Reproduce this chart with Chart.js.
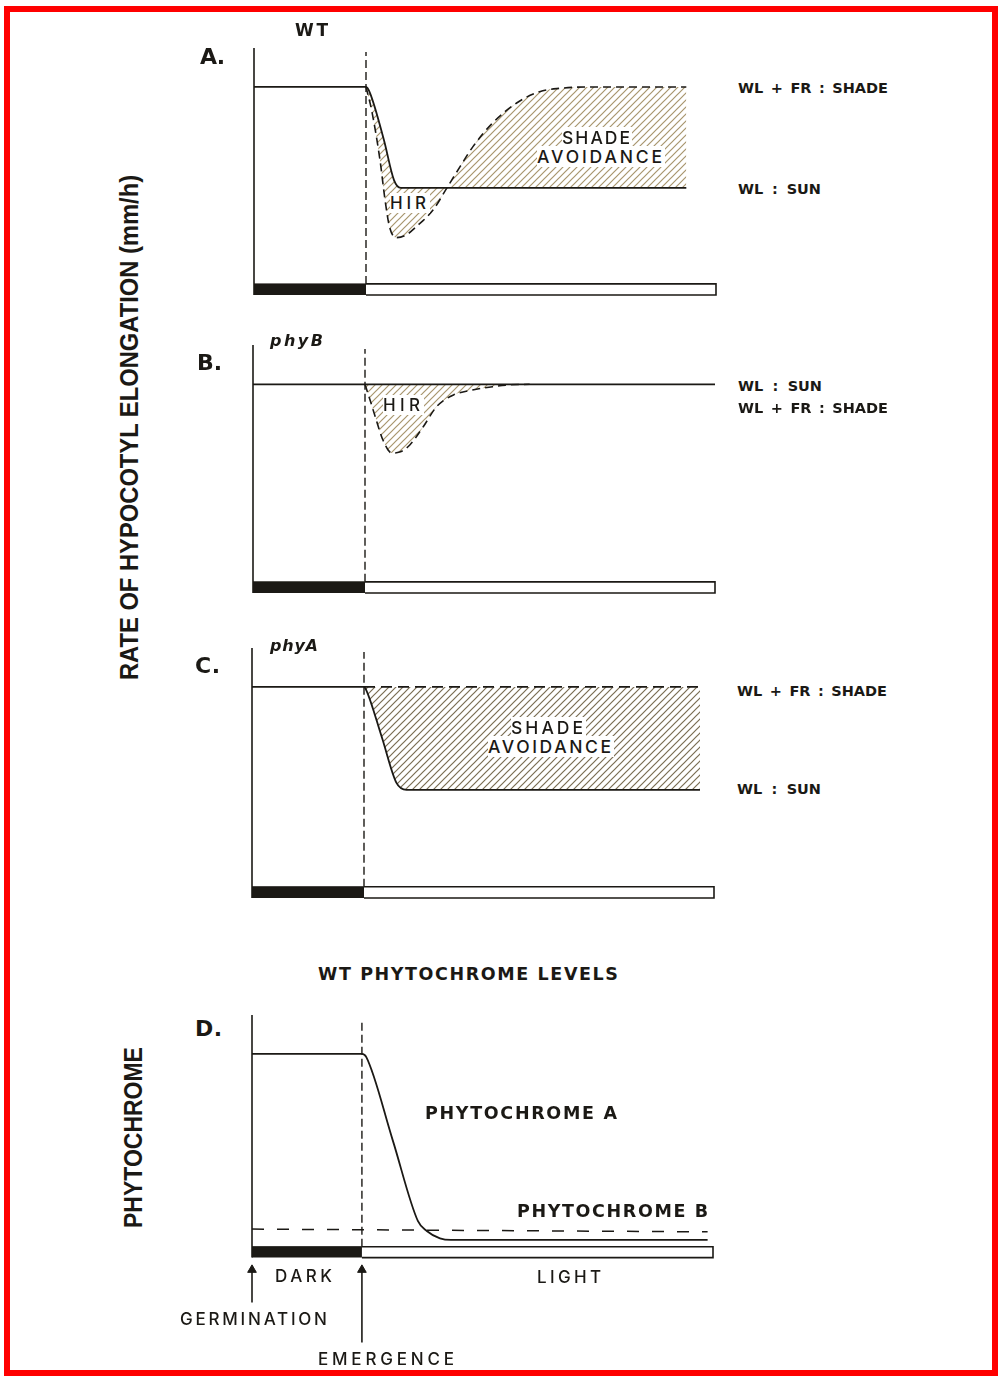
<!DOCTYPE html>
<html><head><meta charset="utf-8">
<script src="https://cdn.jsdelivr.net/npm/chart.js@4.4.1/dist/chart.umd.min.js"></script>
<style>
html,body{margin:0;padding:0;background:#fff;}
body{width:999px;height:1376px;position:relative;overflow:hidden;font-family:"Liberation Sans",Arial,sans-serif;color:#1b1915;}
#frame{position:absolute;left:4px;top:6px;width:982px;height:1358px;border:6px solid #ff0000;}
canvas{position:absolute;}
.lbl{position:absolute;white-space:pre;line-height:1;}
</style></head><body>
<div id="frame"></div>
<script>
// ---------- DATA (x: time since germination, emergence = 10; y: relative rate / level) ----------
const phaseDark = [0, 10];          // germination -> emergence (dark)
const emergenceX = 10;
// Panel A (WT)
const sunA_x   = [0, 10, 10.35, 11.6, 12.5, 13.1, 38.6];
const sunA_y   = [83.5, 83.5, 81.0, 61.0, 44.0, 40.7, 40.7];
const shadeA_x = [10, 10.5, 11.25, 11.7, 12.1, 12.7, 13.6, 14.5, 16.0, 17.2, 18.4, 19.55, 21.3, 23.45, 25.5, 27.3, 30, 38.6];
const shadeA_y = [83.5, 73.7, 52.5, 35.6, 24.2, 19.6, 20.8, 24.3, 31.4, 40.5, 49.7, 58.2, 68.2, 76.7, 81.5, 82.9, 83.5, 83.5];
// Panel B (phyB)
const sunB_x   = [0, 41.25];
const sunB_y   = [83.4, 83.4];
const shadeB_x = [10, 10.45, 11.0, 11.6, 12.4, 13.1, 14.0, 15.2, 16.4, 17.9, 19.6, 21.4, 22.7, 24.7];
const shadeB_y = [83.4, 76.8, 68.4, 59.9, 54.4, 54.8, 57.8, 65.5, 74.0, 78.9, 81.0, 82.4, 83.1, 83.4];
// Panel C (phyA)
const sunC_x   = [0, 10, 10.2, 11.6, 12.9, 13.8, 40.0];
const sunC_y   = [83.7, 83.7, 82.4, 62.5, 43.5, 40.6, 40.6];
const shadeC_x = [10, 40.0];
const shadeC_y = [83.7, 83.7];
// Panel D (WT phytochrome levels)
const phyA_x = [0, 10, 10.4, 12.8, 15.1, 15.9, 17.1, 18.1, 41.45];
const phyA_y = [83.2, 83.2, 81.8, 46.0, 11.0, 6.8, 3.6, 2.9, 2.9];
const phyB_x = [0, 41.45];
const phyB_y = [7.6, 6.4];
// arrows (germination, emergence) below the time bar
const arrowGerm_y = [-24.1, -10.0];
const arrowEmer_y = [-41.4, -10.0];

// ---------- helpers ----------
const INK = '#1b1915';
const BAR_H = 4.7;
const pts = (xs, ys) => xs.map((x, i) => ({x, y: ys[i]}));
function ln(xs, ys, o) {
  return Object.assign({data: pts(xs, ys), borderColor: INK, borderWidth: 1.8, pointRadius: 0,
    fill: false, tension: 0, clip: false, backgroundColor: INK}, o || {});
}
function hatch(color, size, lw) {
  const c = document.createElement('canvas'); c.width = size; c.height = size;
  const g = c.getContext('2d'); g.strokeStyle = color; g.lineWidth = lw;
  g.beginPath();
  g.moveTo(-1, size + 1); g.lineTo(size + 1, -1);
  g.moveTo(-1, 1); g.lineTo(1, -1);
  g.moveTo(size - 1, size + 1); g.lineTo(size + 1, size - 1);
  g.stroke();
  return g.createPattern(c, 'repeat');
}
function frameSets(xmax, topDash) {
  return [
    ln([0, 0], [-BAR_H, 100], {borderWidth: 1.6}),                                   // y axis
    ln([emergenceX, emergenceX], [0, topDash], {borderWidth: 1.4, borderDash: [8, 4]}), // emergence
    ln(phaseDark, [0, 0], {fill: {value: -BAR_H}, backgroundColor: INK, borderWidth: 1}),  // dark bar
    ln([emergenceX, xmax, xmax, emergenceX], [0, 0, -BAR_H, -BAR_H], {borderWidth: 1.6}) // light bar
  ];
}
function mk(L, R, topPx, zeroPx, xmax, ymin, datasets) {
  const pad = 10;
  const ppu = (zeroPx - topPx) / 100;
  const bottomPx = zeroPx - ymin * ppu;
  const c = document.createElement('canvas');
  c.width = Math.round(R - L) + 2 * pad;
  c.height = Math.round(bottomPx - topPx) + 2 * pad;
  c.style.left = (Math.round(L) - pad) + 'px';
  c.style.top = (Math.round(topPx) - pad) + 'px';
  c.style.width = c.width + 'px'; c.style.height = c.height + 'px';
  document.body.appendChild(c);
  new Chart(c, {
    type: 'line',
    data: {datasets},
    options: {
      responsive: false, animation: false, devicePixelRatio: 1,
      layout: {padding: pad},
      plugins: {legend: {display: false}, tooltip: {enabled: false}},
      scales: {
        x: {type: 'linear', min: 0, max: xmax, display: false},
        y: {type: 'linear', min: ymin, max: 100, display: false}
      },
      elements: {point: {radius: 0}}
    }
  });
}

const hatchLight = hatch('#a8966e', 7, 1.2);
const hatchDark = hatch('#7a6d53', 7, 1.2);

// Panel A
(function () {
  const xmax = 41.25;
  const ds = frameSets(xmax, 98.3);
  const sunIdx = ds.length;
  ds.push(ln(sunA_x, sunA_y, {cubicInterpolationMode: 'monotone'}));
  ds.push(ln(shadeA_x, shadeA_y, {cubicInterpolationMode: 'monotone', borderDash: [8, 5], borderWidth: 1.6,
    fill: {target: sunIdx}, backgroundColor: hatchLight}));
  mk(254, 716, 48, 284, xmax, -BAR_H, ds);
})();
// Panel B
(function () {
  const xmax = 41.25;
  const ds = frameSets(xmax, 98.3);
  const sunIdx = ds.length;
  ds.push(ln(sunB_x, sunB_y));
  ds.push(ln(shadeB_x, shadeB_y, {cubicInterpolationMode: 'monotone', borderDash: [8, 5], borderWidth: 1.6,
    fill: {target: sunIdx}, backgroundColor: hatchLight}));
  mk(253, 715, 345, 582, xmax, -BAR_H, ds);
})();
// Panel C
(function () {
  const xmax = 41.25;
  const ds = frameSets(xmax, 98.3);
  const sunIdx = ds.length;
  ds.push(ln(sunC_x, sunC_y, {cubicInterpolationMode: 'monotone'}));
  ds.push(ln(shadeC_x, shadeC_y, {borderDash: [11, 6], borderWidth: 1.6,
    fill: {target: sunIdx}, backgroundColor: hatchDark}));
  mk(252, 714, 648, 887, xmax, -BAR_H, ds);
})();
// Panel D
(function () {
  const xmax = 41.94;
  const ds = frameSets(xmax, 97.8);
  ds.push(ln(phyA_x, phyA_y, {cubicInterpolationMode: 'monotone'}));
  ds.push(ln(phyB_x, phyB_y, {borderDash: [12, 13], borderWidth: 1.5}));
  ds.push(ln([0, 0], arrowGerm_y, {borderWidth: 1.6, pointStyle: 'triangle', pointRadius: [0, 5],
    pointBackgroundColor: INK, pointBorderColor: INK, pointBorderWidth: 1}));
  ds.push(ln([emergenceX, emergenceX], arrowEmer_y, {borderWidth: 1.6, pointStyle: 'triangle', pointRadius: [0, 5],
    pointBackgroundColor: INK, pointBorderColor: INK, pointBorderWidth: 1}));
  mk(252, 713, 1015, 1247, xmax, -42, ds);
})();

// ---------- text ----------
const FB = '"DejaVu Sans", "Liberation Sans", sans-serif';
const FN = 'Inter, "Liberation Sans", Arial, sans-serif';
function label(text, x, cy, w, size, weight, fam, opts) {
  opts = opts || {};
  const d = document.createElement('div');
  d.className = 'lbl'; d.textContent = text;
  d.style.font = (opts.italic ? 'italic ' : '') + weight + ' ' + size + 'px ' + fam;
  if (opts.bg) { d.style.background = '#fff'; }
  document.body.appendChild(d);
  const nat = d.getBoundingClientRect().width;
  const n = text.length;
  if (opts.word) {
    const gaps = text.split(' ').length - 1;
    if (gaps > 0) d.style.wordSpacing = ((w - nat) / gaps).toFixed(2) + 'px';
  } else if (n > 1) {
    d.style.letterSpacing = ((w - nat) / (n - 1)).toFixed(2) + 'px';
  }
  d.style.left = x + 'px';
  const h = d.getBoundingClientRect().height;
  d.style.top = (cy - 0.49 * h) + 'px';
}
function vlabel(text, cx, cy, len, size) {
  const d = document.createElement('div');
  d.className = 'lbl'; d.textContent = text;
  d.style.font = '700 ' + size + 'px "Liberation Sans", Arial, sans-serif';
  document.body.appendChild(d);
  const r = d.getBoundingClientRect();
  d.style.left = (cx - r.width / 2) + 'px';
  d.style.top = (cy - r.height / 2) + 'px';
  d.style.transform = 'rotate(-90deg) scaleX(' + (len / r.width).toFixed(3) + ')';
}
const W = {word: 1};
// Panel A
label('WT', 295, 30, 33, 17, 700, FB);
label('A.', 200, 56, 25, 22, 700, FB);
label('WL + FR : SHADE', 738, 88, 150, 14.5, 700, FB, W);
label('WL : SUN', 738, 188.5, 83, 14.5, 700, FB, W);
label('SHADE', 562, 137, 68, 17.5, 500, FN, {bg: 1});
label('AVOIDANCE', 537, 156, 125, 17.5, 500, FN, {bg: 1});
label('HIR', 390, 203, 36, 17, 500, FN, {bg: 1});
// Panel B
label('phyB', 270, 340, 53, 16, 700, FB, {italic: 1});
label('B.', 197, 362, 25, 22, 700, FB);
label('HIR', 383, 405, 37, 17, 500, FN, {bg: 1});
label('WL : SUN', 738, 386, 84, 14.5, 700, FB, W);
label('WL + FR : SHADE', 738, 408, 150, 14.5, 700, FB, W);
// Panel C
label('phyA', 270, 645, 48, 16, 700, FB, {italic: 1});
label('C.', 195, 665, 25, 22, 700, FB);
label('SHADE', 511, 727, 72, 17.5, 500, FN, {bg: 1});
label('AVOIDANCE', 488, 746, 123, 17.5, 500, FN, {bg: 1});
label('WL + FR : SHADE', 737, 691, 150, 14.5, 700, FB, W);
label('WL : SUN', 737, 789, 84, 14.5, 700, FB, W);
// Panel D
label('WT PHYTOCHROME LEVELS', 318, 974, 300, 17.5, 700, FB);
label('D.', 195, 1028, 27, 22, 700, FB);
label('PHYTOCHROME A', 425, 1113, 192, 17.5, 700, FB);
label('PHYTOCHROME B', 517, 1211, 191, 17.5, 700, FB);
label('DARK', 275, 1276, 57, 17, 500, FN);
label('LIGHT', 537, 1277, 64, 17, 500, FN);
label('GERMINATION', 180, 1319, 147, 17, 500, FN);
label('EMERGENCE', 318, 1359, 136, 17, 500, FN);
// vertical axis titles
vlabel('RATE OF HYPOCOTYL ELONGATION (mm/h)', 130, 427, 505, 26);
vlabel('PHYTOCHROME', 133, 1137, 181, 26);
</script>
</body></html>
